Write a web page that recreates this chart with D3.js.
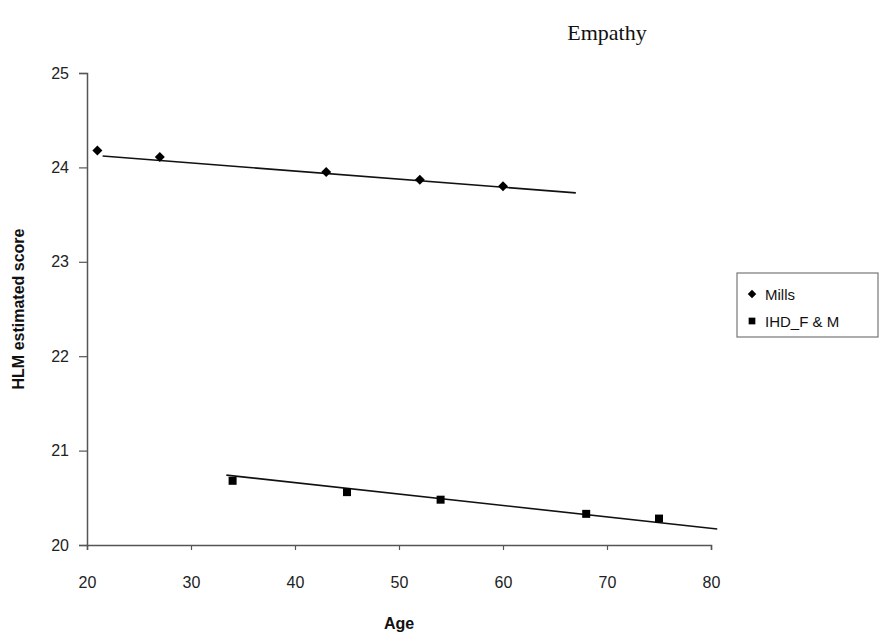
<!DOCTYPE html>
<html><head><meta charset="utf-8">
<script src="https://cdn.jsdelivr.net/npm/d3@7/dist/d3.min.js"></script>
<style>body{margin:0;background:#fff}</style>
</head><body>
<svg id="c" width="880" height="636"></svg>
<script>
const title = "Empathy";
const xTicks = [20,30,40,50,60,70,80];
const yTicks = [20,21,22,23,24,25];
const millsAge = [21,27,43,52,60];
const millsScore = [24.18,24.11,23.95,23.87,23.80];
const millsLineAge = [21.5,67];
const millsLineScore = [24.12,23.73];
const ihdAge = [34,45,54,68,75];
const ihdScore = [20.68,20.56,20.48,20.33,20.28];
const ihdLineAge = [33.4,80.6];
const ihdLineScore = [20.74,20.17];
const legendLabels = ["Mills","IHD_F & M"];

const svg = d3.select("#c");
const x = d3.scaleLinear().domain([20,80]).range([87,711]);
const y = d3.scaleLinear().domain([20,25]).range([545,73]);
const axisColor = "#555";
const sans = "Liberation Sans, Arial, sans-serif";

const gx = svg.append("g").attr("transform","translate(0,545)")
  .call(d3.axisBottom(x).tickValues(xTicks).tickFormat(d3.format("d")).tickSize(5).tickPadding(32));
const gy = svg.append("g").attr("transform","translate(87,0)")
  .call(d3.axisLeft(y).tickValues(yTicks).tickFormat(d3.format("d")).tickSize(8).tickPadding(10));
[gx,gy].forEach(g=>{
  g.select(".domain").attr("stroke",axisColor).attr("stroke-width",1.5);
  g.selectAll(".tick line").attr("stroke",axisColor).attr("stroke-width",1.2);
  g.selectAll(".tick text").attr("font-family",sans)
    .attr("font-size",16).attr("fill","#222");
});
gx.selectAll(".tick text").attr("dy","0.35em");

svg.append("text").attr("x",607).attr("y",40).attr("text-anchor","middle")
  .attr("font-family","Liberation Serif, Times New Roman, serif").attr("font-size",22)
  .attr("fill","#111").text(title);
svg.append("text").attr("x",399).attr("y",629).attr("text-anchor","middle")
  .attr("font-family",sans).attr("font-size",16)
  .attr("font-weight","bold").attr("fill","#111").text("Age");
svg.append("text").attr("transform","translate(24,309) rotate(-90)").attr("text-anchor","middle")
  .attr("font-family",sans).attr("font-size",16)
  .attr("font-weight","bold").attr("fill","#111").text("HLM estimated score");

const line = d3.line().x(d=>x(d[0])).y(d=>y(d[1]));
svg.append("path").datum(d3.zip(millsLineAge,millsLineScore)).attr("d",line)
  .attr("stroke","#111").attr("stroke-width",1.6).attr("fill","none");
svg.append("path").datum(d3.zip(ihdLineAge,ihdLineScore)).attr("d",line)
  .attr("stroke","#111").attr("stroke-width",1.6).attr("fill","none");

const diamond = d3.symbol().type(d3.symbolSquare).size(50);
const square = d3.symbol().type(d3.symbolSquare).size(64);
svg.append("g").selectAll("path").data(d3.zip(millsAge,millsScore)).join("path")
  .attr("d",diamond).attr("transform",d=>`translate(${x(d[0])},${y(d[1])}) rotate(45)`).attr("fill","#000");
svg.append("g").selectAll("path").data(d3.zip(ihdAge,ihdScore)).join("path")
  .attr("d",square).attr("transform",d=>`translate(${x(d[0])},${y(d[1])})`).attr("fill","#000");

const lg = svg.append("g");
lg.append("rect").attr("x",737).attr("y",273).attr("width",141).attr("height",64)
  .attr("fill","#fff").attr("stroke","#777").attr("stroke-width",1.2);
const syms = [d3.symbol().type(d3.symbolSquare).size(36), d3.symbol().type(d3.symbolSquare).size(45)];
legendLabels.forEach((t,i)=>{
  const yy = 294 + i*27;
  lg.append("path").attr("d",syms[i]).attr("transform",`translate(752,${yy})` + (i===0?" rotate(45)":"")).attr("fill","#000");
  lg.append("text").attr("x",765).attr("y",yy+6).attr("font-family",sans)
    .attr("font-size",15).attr("fill","#111").text(t);
});
</script>
</body></html>
